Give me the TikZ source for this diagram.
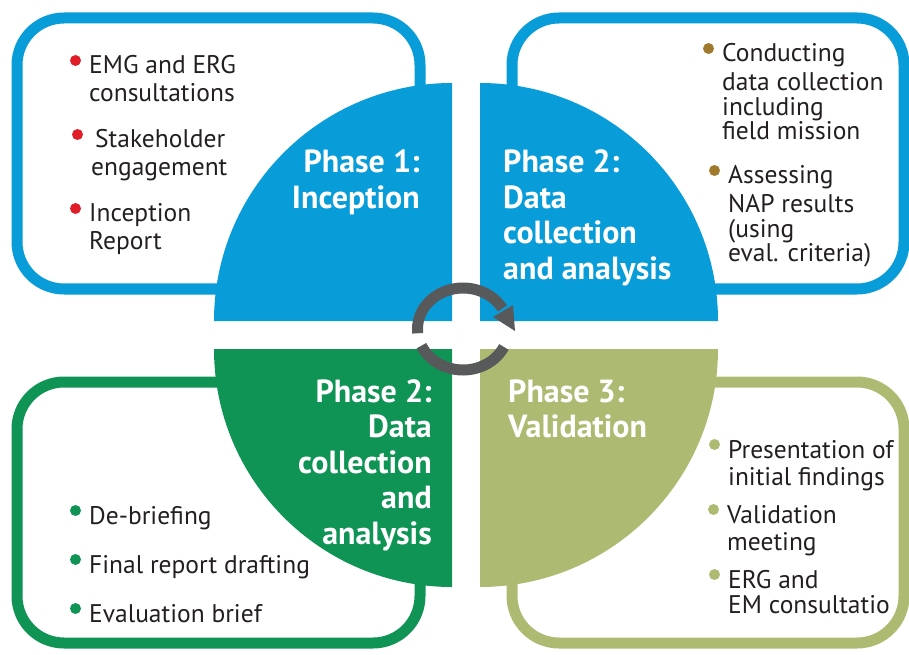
\documentclass[tikz,border=0pt]{standalone}
\usepackage{fontspec}
\setmainfont{PT Sans}
\usepackage{tikz}
\definecolor{bleu}{RGB}{8,157,217}
\definecolor{vert}{RGB}{16,148,86}
\definecolor{olive}{RGB}{173,187,114}
\definecolor{rouge}{RGB}{225,30,40}
\definecolor{brun}{RGB}{160,122,44}
\definecolor{gris}{RGB}{88,89,91}
\definecolor{texte}{RGB}{35,31,32}

\begin{document}
\begin{tikzpicture}[x=1pt,y=1pt]
    \newcommand\puce[4]{\node[txt] at (#2) (#1) {\begin{tabular}[t]{@{}l@{}}#4\end{tabular}};
                        \fill[#3] (#1.base west) ++(-13.5,13.5) circle[radius=5.5];}
    \tikzstyle{cadre}=[line width=11pt,rounded corners=47pt]
    \tikzstyle{txt}=[anchor=base west,inner sep=0pt,text=texte,font=\fontsize{25.5}{28}\selectfont]
    \tikzstyle{titre}=[inner sep=0pt,text=white,font=\bfseries\fontsize{32}{35.5}\selectfont]
    \tikzstyle{fleche}=[line width=11pt,draw=gris]
    \useasboundingbox (0,0) rectangle (909,654);
    \draw[cadre,bleu]  (17,365) rectangle (420,636);
    \draw[cadre,bleu]  (512,365) rectangle (904,636);
    \draw[cadre,vert]  (17,11) rectangle (420,272);
    \draw[cadre,olive] (512,11) rectangle (904,272);
    \fill[bleu]  (452,333) -- (214,333) arc[start angle=180,end angle=90,radius=238] -- cycle; % quarts
    \fill[bleu]  (480,333) -- (718,333) arc[start angle=0,end angle=90,radius=238] -- cycle;
    \fill[vert]  (452,305) -- (214,305) arc[start angle=180,end angle=270,radius=238] -- cycle;
    \fill[olive] (480,305) -- (718,305) arc[start angle=0,end angle=-90,radius=238] -- cycle;
    \node[titre,anchor=base east] at (420,481) (p1) {\begin{tabular}[t]{@{}r@{}}Phase 1:\\Inception\end{tabular}};
    \node[titre,anchor=base west] at (503,481) (p2) {\begin{tabular}[t]{@{}l@{}}Phase 2:\\Data\\collection\\and analysis\end{tabular}};
    \node[titre,anchor=base east] at (432,252) (p2b) {\begin{tabular}[t]{@{}r@{}}Phase 2:\\Data\\collection\\and\\analysis\end{tabular}};
    \node[titre,anchor=base west] at (508,252) (p3) {\begin{tabular}[t]{@{}l@{}}Phase 3:\\Validation\end{tabular}};
    \puce{emg}{89,580}{rouge}{EMG and ERG\\consultations} % phase 1
    \puce{stake}{91,506}{rouge}{\hspace{4pt}Stakeholder\\engagement}
    \puce{incep}{89,432}{rouge}{Inception\\Report}
    \puce{cond}{722,592}{brun}{Conducting\\[1pt]data collection\\[-3.7pt]including\\[-3.7pt]field mission} % phase 2
    \puce{nap}{728,470}{brun}{Assessing\\[1pt]NAP results\\[-3pt](using\\[-4pt]eval. criteria)}
    \puce{debr}{89,130}{vert}{De-briefing} % phase 2 bis
    \puce{draft}{89,81}{vert}{Final report drafting}
    \puce{brief}{89,32}{vert}{Evaluation brief}
    \puce{pres}{728,196}{olive}{Presentation of\\[-1pt]initial findings} % phase 3
    \puce{valid}{727,131}{olive}{Validation\\[-1pt]meeting}
    \puce{erg}{728,66}{olive}{ERG and\\[-3pt]EM consultatio}
    \coordinate (rond) at (463,325);
    \draw[fleche] (rond) ++(186:45.5 and 41) arc[start angle=186,end angle=30,x radius=45.5,y radius=41];
    \draw[fleche] (rond) ++(204:45.5 and 41) arc[start angle=204,end angle=334,x radius=45.5,y radius=41];
    \fill[gris] (493,337) -- (513,349) -- (515,323) -- cycle; % pointe
  \end{tikzpicture}
\end{document}
